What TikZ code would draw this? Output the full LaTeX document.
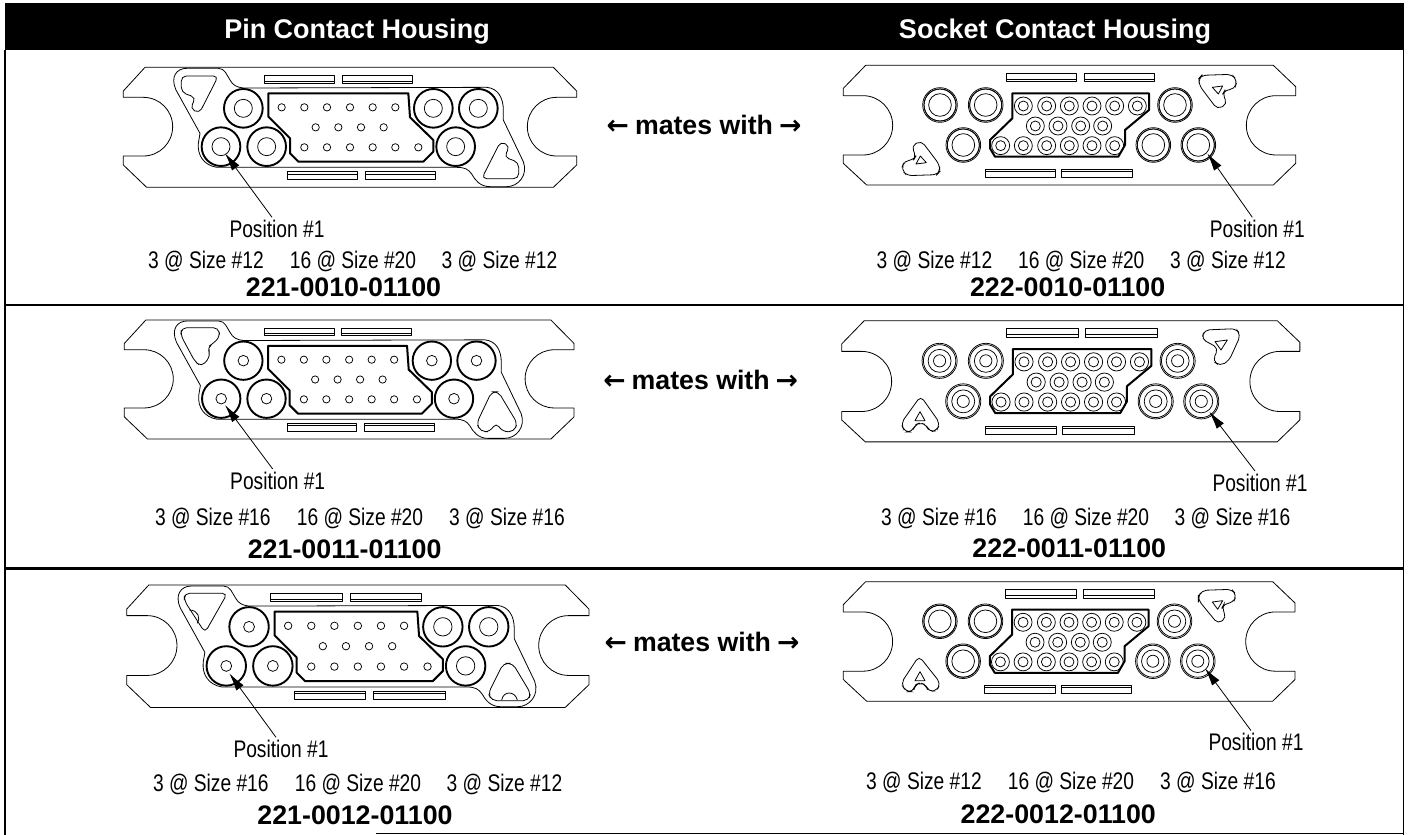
\documentclass[tikz,border=0pt]{standalone}
\usepackage{fontspec}
\usetikzlibrary{arrows.meta}
\setmainfont{Liberation Sans}
\newfontfamily\condfont[FakeStretch=0.8]{Liberation Sans}
\newfontfamily\arrowfont{DejaVu Sans}
\tikzset{
  thin line/.style={line width=0.8pt,line join=round},
  conn line/.style={line width=2pt,line join=round},
  ring line/.style={line width=0.75pt},
  bigring/.style={line width=1.9pt},
  key line/.style={line width=0.8pt,rounded corners=5pt},
  lab/.style={font=\condfont\fontsize{24}{26}\selectfont,inner sep=0pt,text height=17pt,text depth=0pt},
  part/.style={font=\bfseries\fontsize{26.8}{28}\selectfont,inner sep=0pt,text height=19pt,text depth=0pt},
  head/.style={font=\bfseries\fontsize{27}{30}\selectfont,text=white,inner sep=0pt,text height=20pt,text depth=0pt},
  mates/.style={font=\bfseries\fontsize{26.7}{30}\selectfont,inner sep=0pt,text height=14pt,text depth=0pt},
  leader/.style={line width=0.8pt,-{Latex[length=18pt,width=9pt]}},
  rule/.style={line width=2.6pt},
  crop/.style={shift={#1},scale=0.33333}
}
\newcommand{\LArrow}{{\arrowfont\bfseries ←}}
\newcommand{\RArrow}{{\arrowfont\bfseries →}}
\newcommand{\MatesText}{\LArrow\hspace{6pt}mates with\hspace{6pt}\RArrow}
% pin body, drawn in the coordinates of the first row's crop
\newcommand{\PinBody}[2]{
  \draw[thin line] (165,112)--(1390,112)--(1460,183)--(1460,202)--(1400,202)
     arc[start angle=-90,end angle=-270,radius=88]--(1460,378)--(1460,405)--(1390,472)--(170,472)--(100,405)--(100,378)--(160,378)
     arc[start angle=90,end angle=-90,radius=88]--(100,202)--(100,183)--cycle;
  \draw[thin line] (290,115)--(385,115) .. controls (405,115) and (410,135) .. (420,150) .. controls (428,165) and (440,172) .. (460,174)
     --(1190,172) .. controls (1225,175) and (1240,205) .. (1240,240)--(1240,270)--(1300,395)
     .. controls (1315,435) and (1285,470) .. (1250,470)--(1200,470) .. controls (1170,470) and (1155,450) .. (1145,432)
     .. controls (1135,418) and (1125,412) .. (1100,412)--(380,412) .. controls (340,405) and (322,375) .. (325,340)
     --(330,310)--(258,180) .. controls (240,140) and (260,115) .. (290,115)--cycle;
  \foreach \a/\b in {523/137,757/137}{
    \draw[thin line] (\a,\b) rectangle ++(211,23);
    \draw[thin line] (\a,\b+16)--++(211,0);}
  \foreach \a/\b in {592/425,826/425}{
    \draw[thin line] (\a,\b) rectangle ++(211,24);
    \draw[thin line] (\a,\b+7)--++(211,0);}
  \draw[conn line] (535,190)--(955,190)--(960,262)--(1030,330)--(1030,365)--(1000,395)--(625,395)--(600,370)--(600,325)--(535,260)--cycle;
  \foreach \a in {575,643,711,780,848,916}{\draw[ring line] (\a,232) circle[radius=11];}
  \foreach \a in {677,745,813,881}{\draw[ring line] (\a,292) circle[radius=11];}
  \foreach \a in {643,711,780,848,916,985}{\draw[ring line] (\a,352) circle[radius=11];}
  \foreach \a/\b in {460/235,393/350,530/350}{
    \draw[bigring] (\a,\b) circle[radius=58];
    \draw[ring line] (\a,\b) circle[radius=#1];}
  \foreach \a/\b in {1030/235,1165/235,1097/350}{
    \draw[bigring] (\a,\b) circle[radius=58];
    \draw[ring line] (\a,\b) circle[radius=#2];}
}
% socket body, drawn in the coordinates of the first row's crop
\newcommand{\SockBody}[4]{
  \draw[thin line] (197,106)--(1420,106)--(1487,170)--(1487,197)--(1428,197)
     arc[start angle=-90,end angle=-270,radius=89]--(1487,375)--(1487,400)--(1420,465)--(200,465)--(130,400)--(130,375)--(189,375)
     arc[start angle=90,end angle=-90,radius=89]--(130,197)--(130,175)--cycle;
  \foreach \a in {618,852}{
    \draw[thin line] (\a,130) rectangle ++(212,25);
    \draw[thin line] (\a,147)--++(212,0);}
  \foreach \a in {555,785}{
    \draw[thin line] (\a,419) rectangle ++(211,24);
    \draw[thin line] (\a,424)--++(211,0);}
  \draw[conn line] (637,190)--(1047,190)--(1047,240)--(975,300)--(975,345)--(955,380)--(585,380)--(570,355)--(570,330)--(637,265)--cycle;
  \foreach \a in {670,740,808,876,944,1012}{
    \draw[ring line] (\a,228) circle[radius=27]; \draw[ring line] (\a,228) circle[radius=15];}
  \foreach \a in {706,774,842,908}{
    \draw[ring line] (\a,288) circle[radius=27]; \draw[ring line] (\a,288) circle[radius=15];}
  \foreach \a in {602,670,740,808,876,944}{
    \draw[ring line] (\a,347) circle[radius=27]; \draw[ring line] (\a,347) circle[radius=15];}
  \foreach \a/\b in {420/225,557/225,490/345}{
    \draw[ring line] (\a,\b) circle[radius=52];
    \draw[ring line] (\a,\b) circle[radius=48];
    \draw[ring line] (\a,\b) circle[radius=#1];
    \draw[ring line] (\a,\b) circle[radius=#2];}
  \foreach \a/\b in {1125/225,1060/345,1195/345}{
    \draw[ring line] (\a,\b) circle[radius=52];
    \draw[ring line] (\a,\b) circle[radius=48];
    \draw[ring line] (\a,\b) circle[radius=#3];
    \draw[ring line] (\a,\b) circle[radius=#4];}
}
\begin{document}
\begin{tikzpicture}[x=1pt,y=-1pt]
\useasboundingbox (0,0) rectangle (1408,835);
\fill[white] (0,0) rectangle (1408,835);
% frame
\fill[black] (5,3) rectangle (1404,50);
\draw[line width=1.6pt] (5,50)--(5,835);
\draw[line width=1.6pt] (1403.5,50)--(1403.5,835);
\draw[rule] (5,305)--(1404,305);
\draw[rule] (5,568.5)--(1404,568.5);
\draw[line width=1pt] (376,833.5)--(1404,833.5);
\node[head] (hp) at (357,28) {Pin Contact Housing};
\node[head] (hs) at (1055,28) {Socket Contact Housing};

% ---- pin row 1
\begin{scope}[crop={(90,30)}]
  \PinBody{27}{27}
  \draw[key line] (274,138)--(385,138)--(328,250)--(300,235)--(318,203)--(274,187)--cycle;
  \draw[key line] (1286,446)--(1175,446)--(1232,334)--(1260,349)--(1242,381)--(1286,397)--cycle;
\end{scope}
% ---- pin row 2
\begin{scope}[crop={(90,290)}]
  \begin{scope}[shift={(103,90)},scale=0.992,shift={(-100,-112)}]
    \PinBody{16}{16}
  \end{scope}
  \draw[key line] (275,113)--(385,113)--(390,140)--(370,160)--(352,172)--(362,198)--(335,230)--(315,215)--(272,135)--cycle;
  \draw[key line] (1205,305)--(1160,400)--(1172,425)--(1200,425)--(1218,398)--(1238,425)--(1272,425)--(1282,400)--(1225,305)--cycle;
\end{scope}
% ---- pin row 3
\begin{scope}[crop={(90,560)}]
  \begin{scope}[shift={(110,75)},scale=1.02,shift={(-100,-112)}]
    \PinBody{16}{27}
  \end{scope}
  \draw[key line] (283,100)--(412,100)--(345,218)--(283,122)--cycle;
  \draw[line width=.8pt] (298,150) .. controls (325,150) and (332,175) .. (322,190);
  \draw[key line] (1240,310)--(1268,310)--(1322,400)--(1315,422)--(1205,422)--(1195,400)--cycle;
  \draw[line width=.8pt] (1235,420) .. controls (1240,392) and (1275,392) .. (1282,420);
\end{scope}

% ---- socket row 1
\begin{scope}[crop={(800,30)}]
  \SockBody{48}{34}{48}{34}
  \draw[key line] (1197,145)--(1205,136)--(1295,133)--(1312,152)--(1303,178)--(1275,180)--(1268,192)--(1282,222)--(1252,238)--(1197,165)--cycle;
  \draw[thin line] (1237,172)--(1268,168)--(1255,192)--cycle;
  \draw[key line] (419,425)--(411,434)--(321,437)--(304,418)--(313,392)--(341,390)--(348,378)--(334,348)--(364,332)--(419,405)--cycle;
  \draw[thin line] (379,398)--(348,402)--(361,378)--cycle;
\end{scope}
% ---- socket row 2
\begin{scope}[crop={(800,290)}]
  \begin{scope}[shift={(125,92)},scale=1.013,shift={(-130,-106)}]
    \SockBody{34}{18}{34}{18}
  \end{scope}
  \draw[key line] (1205,148)--(1213,120)--(1308,116)--(1322,135)--(1287,212)--(1260,228)--(1238,212)--(1255,175)--(1230,160)--cycle;
  \draw[thin line] (1245,155)--(1282,150)--(1263,180)--cycle;
  \draw[key line] (303,400)--(314,426)--(336,426)--(345,405)--(360,398)--(380,405)--(388,426)--(410,422)--(420,400)--(362,318)--cycle;
  \draw[thin line] (345,392)--(360,365)--(375,392)--cycle;
\end{scope}
% ---- socket row 3
\begin{scope}[crop={(800,560)}]
  \begin{scope}[shift={(130,65)},scale=0.9985,shift={(-130,-106)}]
    \SockBody{48}{34}{34}{18}
  \end{scope}
  \draw[key line] (1195,112)--(1205,91)--(1295,88)--(1310,105)--(1300,127)--(1272,132)--(1265,145)--(1280,172)--(1254,192)--(1195,120)--cycle;
  \draw[thin line] (1237,126)--(1268,122)--(1253,148)--cycle;
  \draw[key line] (303,370)--(318,395)--(340,395)--(345,375)--(360,368)--(378,375)--(385,395)--(410,392)--(422,370)--(357,288)--cycle;
  \draw[thin line] (345,362)--(360,335)--(375,362)--cycle;
\end{scope}

% ---- mates with
\node[mates] (m1) at (704,127.3) {\MatesText};
\node[mates] (m2) at (700.7,382.7) {\MatesText};
\node[mates] (m3) at (702,644) {\MatesText};

% ---- labels, row 1
\node[lab] (pa) at (277,229) {Position \#1};
\node[lab] (a1) at (206,260) {3 @ Size \#12};
\node[lab] (a2) at (353,260) {16 @ Size \#20};
\node[lab] (a3) at (499.5,260) {3 @ Size \#12};
\node[part] (pna) at (343.5,287) {221-0010-01100};
\node[lab] (pb) at (1257.3,229) {Position \#1};
\node[lab] (b1) at (934.5,260) {3 @ Size \#12};
\node[lab] (b2) at (1081.3,260) {16 @ Size \#20};
\node[lab] (b3) at (1228,260) {3 @ Size \#12};
\node[part] (pnb) at (1067.7,286.7) {222-0010-01100};
% ---- labels, row 2
\node[lab] (pc) at (277.7,480.7) {Position \#1};
\node[lab] (c1) at (212.8,516.7) {3 @ Size \#16};
\node[lab] (c2) at (360,516.7) {16 @ Size \#20};
\node[lab] (c3) at (507,516.7) {3 @ Size \#16};
\node[part] (pnc) at (344.7,549.3) {221-0011-01100};
\node[lab] (pd) at (1260,482.7) {Position \#1};
\node[lab] (d1) at (939,516.7) {3 @ Size \#16};
\node[lab] (d2) at (1086,516.7) {16 @ Size \#20};
\node[lab] (d3) at (1232.5,516.7) {3 @ Size \#16};
\node[part] (pnd) at (1069.3,548.3) {222-0011-01100};
% ---- labels, row 3
\node[lab] (pe) at (281,749) {Position \#1};
\node[lab] (e1) at (210.8,782.7) {3 @ Size \#16};
\node[lab] (e2) at (358,782.7) {16 @ Size \#20};
\node[lab] (e3) at (504.5,782.7) {3 @ Size \#12};
\node[part] (pne) at (355,815) {221-0012-01100};
\node[lab] (pf) at (1256,742.3) {Position \#1};
\node[lab] (f1) at (924,780.7) {3 @ Size \#12};
\node[lab] (f2) at (1071,780.7) {16 @ Size \#20};
\node[lab] (f3) at (1218,780.7) {3 @ Size \#16};
\node[part] (pnf) at (1058.3,814) {222-0012-01100};

% ---- Position #1 leaders
\coordinate (ta) at (225,153.3);
\coordinate (tb) at (1207.3,153.3);
\coordinate (tc) at (225,405);
\coordinate (td) at (1209.3,411.7);
\coordinate (te) at (229.3,673.3);
\coordinate (tf) at (1205,668.3);
\draw[leader] ([xshift=-5pt,yshift=3pt]pa.north) -- (ta);
\draw[leader] ([xshift=-5pt,yshift=3pt]pb.north) -- (tb);
\draw[leader] ([xshift=-5pt,yshift=3pt]pc.north) -- (tc);
\draw[leader] ([xshift=-5pt,yshift=3pt]pd.north) -- (td);
\draw[leader] ([xshift=-5pt,yshift=3pt]pe.north) -- (te);
\draw[leader] ([xshift=-5pt,yshift=3pt]pf.north) -- (tf);
\end{tikzpicture}
\end{document}
